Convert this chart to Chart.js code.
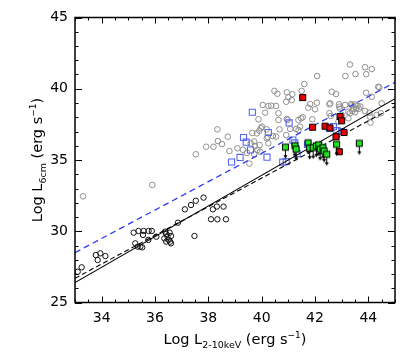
<!DOCTYPE html>
<html>
<head>
<meta charset="utf-8">
<script src="https://cdn.jsdelivr.net/npm/chart.js@4.4.0/dist/chart.umd.min.js"></script>
<style>
  html, body { margin: 0; padding: 0; background: #fff; }
  #wrap { width: 415px; height: 356px; }
</style>
</head>
<body>
<div id="wrap"><canvas id="chart" width="415" height="356"></canvas></div>
<script>
// values (log units)
const xTicks = [34, 36, 38, 40, 42, 44];
const yTicks = [25, 30, 35, 40, 45];

const grayPts = [
  [33.3,32.45],[35.9,33.25],[37.53,35.4],[37.92,35.93],[38.19,35.93],[38.34,37.15],[38.36,36.33],[38.51,36.12],
  [38.73,36.64],[38.79,35.63],[39.09,35.82],[39.3,35.72],[39.45,35.5],[39.54,34.75],[39.65,36.9],[39.72,36.3],
  [39.82,36.87],[39.91,37.06],[39.97,37.23],[40.01,37.34],[39.84,35.7],[39.94,35.58],[39.88,37.86],[40.04,38.86],
  [40.25,38.79],[40.54,38.79],[40.13,38.32],[40.63,38.28],[40.63,37.81],[40.67,37.15],[40.48,39.85],[40.59,39.65],
  [40.92,39.09],[40.94,39.75],[41.15,39.61],[41.5,39.85],[41.0,39.4],[41.13,39.21],[40.19,36.52],[40.25,36.17],
  [40.42,36.68],[40.92,36.75],[40.54,36.64],[41.6,40.33],[42.08,40.89],[43.14,40.89],[43.31,41.7],[43.88,41.51],
  [44.13,41.38],[43.52,41.03],[43.92,41.02],[42.63,39.79],[42.79,39.63],[42.57,38.98],[42.07,39.02],[41.82,38.93],
  [40.36,38.81],[42.9,38.91],[42.91,38.74],[42.94,38.6],[43.13,38.86],[43.25,38.39],[43.31,38.28],[43.4,38.85],
  [43.5,38.9],[43.6,38.8],[43.45,38.6],[43.55,38.6],[43.65,38.6],[43.7,38.75],[43.4,38.45],[43.5,38.35],
  [43.88,38.44],[44.37,40.14],[44.41,40.1],[43.92,39.72],[44.13,39.44],[44.5,38.98],[44.47,38.28],[44.06,38.04],
  [44.31,38.16],[42.54,38.28],[43.25,37.93],[41.75,38.67],[42.0,38.56],[41.9,37.86],[41.48,37.93],[41.54,38.0],
  [40.94,37.88],[41.44,37.34],[43.35,38.93],[42.54,38.91],[44.08,37.62],[42.88,37.69],[43.0,38.16],[42.59,38.09],
  [41.07,37.18],[41.29,37.18],[41.38,37.81],[40.97,37.81],[40.19,37.15],[40.23,36.61],[39.59,36.17],[39.75,35.98],
  [39.92,36.05],[39.72,35.42],[41.38,37.1],[44.04,38.32]
];

const blackPts = [
  [33.1,27.16],[33.25,27.47],[33.78,28.33],[33.95,28.45],[33.85,27.98],[34.14,28.26],
  [35.2,29.9],[35.38,30.02],[35.57,30.02],[35.76,30.02],[35.88,30.02],
  [35.26,29.15],[35.35,28.92],[35.45,28.92],[35.52,28.87],[35.55,29.74],[35.75,29.39],[36.05,29.62],
  [36.38,29.97],[36.42,29.81],[36.47,29.62],[36.55,29.9],[36.6,29.67],[36.35,29.5],[36.51,29.39],
  [36.57,29.27],[36.6,29.15],[36.42,29.27],
  [36.86,30.6],[37.12,31.54],[37.35,31.84],[37.53,32.14],[37.82,32.36],[37.48,29.67],
  [38.1,30.84],[38.34,30.84],[38.66,30.84],[38.17,31.54],[38.32,31.73],[38.57,31.73]
];

const bluePts = [
  [39.65,38.35],[41.03,37.6],[40.25,36.93],[39.32,36.58],[39.42,36.25],[39.58,35.7],[39.19,35.18],[38.87,34.86],
  [40.2,35.2],[40.79,34.85],[40.92,34.88],[41.17,36.4],[41.24,36.2],[41.33,35.45],[41.72,36.1],
  [42.54,37.22],[42.69,37.34],[42.82,37.06],[43.0,37.0]
];

const redPts = [
  [41.54,39.38],[41.91,37.3],[42.38,37.37],[42.56,37.25],[42.94,38.05],[43.0,37.75],[43.09,36.93],
  [42.79,36.63],[42.91,35.58]
];

// upper limits (drawn with arrows)
const greenPts = [
  [40.89,35.9],[41.25,36.0],[41.29,35.76],[41.74,36.21],[41.8,35.83],[41.93,35.87],[42.05,35.99],
  [42.14,36.07],[42.19,35.76],[42.3,35.87],[42.34,35.63],[42.44,35.4],[42.81,36.1],[43.66,36.17]
];

// regression lines, end points at the axis limits
const fitX = [33, 45];
const solidFit = [26.4, 39.3];
const dashFit = [26.7, 38.75];
const blueFit = [28.5, 40.45];

const FONT = '"DejaVu Sans", Verdana, sans-serif';
const toXY = arr => arr.map(p => ({ x: p[0], y: p[1] }));
const lineXY = ys => fitX.map((x, i) => ({ x: x, y: ys[i] }));

// green square with a down arrow under it
function limitMarker() {
  const c = document.createElement('canvas');
  c.width = 11; c.height = 30;
  const g = c.getContext('2d');
  g.strokeStyle = '#000';
  g.lineWidth = 1;
  g.beginPath();
  g.moveTo(5.5, 18); g.lineTo(5.5, 24);
  g.stroke();
  g.fillStyle = '#000';
  g.beginPath();
  g.moveTo(3.5, 23); g.lineTo(7.5, 23); g.lineTo(5.5, 26.5); g.closePath();
  g.fill();
  g.fillStyle = '#22e022';
  g.fillRect(2.5, 12, 6, 6);
  g.strokeRect(2.5, 12, 6, 6);
  return c;
}

function drawRich(ctx, parts, cx, cy) {
  let w = 0;
  parts.forEach(p => {
    ctx.font = p.size + 'px ' + FONT;
    p.w = ctx.measureText(p.t).width;
    w += p.w;
  });
  let x = cx - w / 2;
  ctx.textAlign = 'left';
  ctx.textBaseline = 'alphabetic';
  parts.forEach(p => {
    ctx.font = p.size + 'px ' + FONT;
    ctx.fillText(p.t, x, cy + (p.dy || 0));
    x += p.w;
  });
}

const framePlugin = {
  id: 'frame',
  afterDraw(chart) {
    const { ctx, chartArea: a, scales } = chart;
    const xs = scales.x, ys = scales.y;
    ctx.save();
    ctx.strokeStyle = '#000';
    ctx.lineWidth = 1.5;
    ctx.strokeRect(a.left, a.top, a.right - a.left, a.bottom - a.top);
    ctx.lineWidth = 1;
    ctx.beginPath();
    for (let v = xs.min; v <= xs.max + 1e-9; v += 0.5) {
      const px = Math.round(xs.getPixelForValue(v)) + 0.5;
      const len = xTicks.includes(v) ? 6 : 3;
      ctx.moveTo(px, a.bottom); ctx.lineTo(px, a.bottom - len);
      ctx.moveTo(px, a.top); ctx.lineTo(px, a.top + len);
    }
    for (let v = ys.min; v <= ys.max + 1e-9; v += 1) {
      const py = Math.round(ys.getPixelForValue(v)) + 0.5;
      const len = yTicks.includes(v) ? 7 : 3.5;
      ctx.moveTo(a.left, py); ctx.lineTo(a.left + len, py);
      ctx.moveTo(a.right, py); ctx.lineTo(a.right - len, py);
    }
    ctx.stroke();

    ctx.fillStyle = '#000';
    const cx = (a.left + a.right) / 2;
    drawRich(ctx, [
      { t: 'Log L', size: 14.5 },
      { t: '2-10keV', size: 9.5, dy: 4 },
      { t: ' (erg s', size: 14.5 },
      { t: '\u22121', size: 9, dy: -6 },
      { t: ')', size: 14.5 }
    ], cx, 344);

    ctx.translate(41.5, (a.top + a.bottom) / 2);
    ctx.rotate(-Math.PI / 2);
    drawRich(ctx, [
      { t: 'Log L', size: 14.5 },
      { t: '6cm', size: 9.5, dy: 4 },
      { t: ' (erg s', size: 14.5 },
      { t: '\u22121', size: 9, dy: -6 },
      { t: ')', size: 14.5 }
    ], 0, 0);
    ctx.restore();
  }
};

new Chart(document.getElementById('chart'), {
  type: 'scatter',
  data: {
    datasets: [
      { label: 'upper limits', data: toXY(greenPts), pointStyle: limitMarker(), pointRadius: 5 },
      { label: 'red', data: toXY(redPts), pointStyle: 'rect', pointRadius: 4.3,
        backgroundColor: '#e80000', borderColor: '#000', borderWidth: 1 },
      { label: 'fit solid', type: 'line', data: lineXY(solidFit), borderColor: '#000',
        borderWidth: 1.1, pointRadius: 0, fill: false },
      { label: 'fit dashed', type: 'line', data: lineXY(dashFit), borderColor: '#000',
        borderWidth: 1.1, borderDash: [5, 3], pointRadius: 0, fill: false },
      { label: 'fit blue', type: 'line', data: lineXY(blueFit), borderColor: '#2a3cf0',
        borderWidth: 1.3, borderDash: [6, 4], pointRadius: 0, fill: false },
      { label: 'blue', data: toXY(bluePts), pointStyle: 'rect', pointRadius: 4.3,
        backgroundColor: 'rgba(0,0,0,0)', borderColor: '#5566f2', borderWidth: 1.1 },
      { label: 'black', data: toXY(blackPts), pointStyle: 'circle', pointRadius: 2.7,
        backgroundColor: 'rgba(0,0,0,0)', borderColor: '#111', borderWidth: 1 },
      { label: 'gray', data: toXY(grayPts), pointStyle: 'circle', pointRadius: 2.8,
        backgroundColor: 'rgba(0,0,0,0)', borderColor: '#8f8f8f', borderWidth: 1 }
    ]
  },
  options: {
    responsive: false,
    animation: false,
    devicePixelRatio: 1,
    layout: { padding: { top: 17.5, right: 20, left: 0, bottom: 0 } },
    plugins: { legend: { display: false }, tooltip: { enabled: false } },
    scales: {
      x: {
        type: 'linear', position: 'bottom', min: 33, max: 45,
        afterBuildTicks: s => { s.ticks = xTicks.map(v => ({ value: v })); },
        afterFit: s => { s.height = 53.5; },
        grid: { display: false, drawTicks: false },
        border: { display: false },
        ticks: { color: '#000', font: { family: FONT, size: 14 }, padding: 7,
                 maxRotation: 0, autoSkip: false }
      },
      y: {
        type: 'linear', position: 'left', min: 25, max: 45,
        afterBuildTicks: s => { s.ticks = yTicks.map(v => ({ value: v })); },
        afterFit: s => { s.width = 75; },
        grid: { display: false, drawTicks: false },
        border: { display: false },
        ticks: { color: '#000', font: { family: FONT, size: 14 }, padding: 7, autoSkip: false }
      }
    }
  },
  plugins: [framePlugin]
});
</script>
</body>
</html>
